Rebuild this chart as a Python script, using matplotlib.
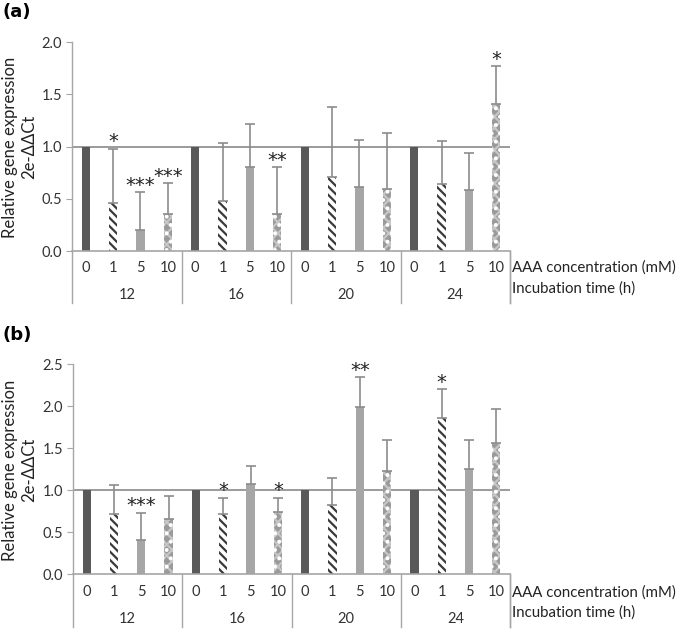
import numpy as np
import matplotlib
matplotlib.use("Agg")
import matplotlib.pyplot as plt
from matplotlib.lines import Line2D

plt.rcParams['font.family'] = ['Lato', 'DejaVu Sans']
plt.rcParams['hatch.linewidth'] = 1.6

# Data
times = ["12", "16", "20", "24"]
concs = ["0", "1", "5", "10"]

# panel (a)
vals_a = [1.0, 0.46, 0.20, 0.35,
          1.0, 0.48, 0.80, 0.35,
          1.0, 0.71, 0.61, 0.59,
          1.0, 0.64, 0.58, 1.41]
errtop_a = [1.0, 0.98, 0.56, 0.65,
            1.0, 1.03, 1.22, 0.80,
            1.0, 1.38, 1.06, 1.13,
            1.0, 1.05, 0.94, 1.77]
stars_a = ["", "*", "***", "***",
           "", "", "", "**",
           "", "", "", "",
           "", "", "", "*"]

# panel (b)
vals_b = [1.0, 0.71, 0.40, 0.66,
          1.0, 0.72, 1.07, 0.74,
          1.0, 0.82, 1.99, 1.23,
          1.0, 1.86, 1.25, 1.56]
errtop_b = [1.0, 1.06, 0.73, 0.93,
            1.0, 0.91, 1.28, 0.91,
            1.0, 1.14, 2.34, 1.60,
            1.0, 2.20, 1.60, 1.96]
stars_b = ["", "", "***", "",
           "", "*", "", "*",
           "", "", "**", "",
           "", "*", "", ""]

# bar styles per concentration
styles = [
    dict(color="#595959", hatch=None, edgecolor="#595959"),
    dict(color="white", hatch="\\\\\\\\", edgecolor="#3a3a3a"),
    dict(color="#a6a6a6", hatch=None, edgecolor="#a6a6a6"),
    dict(color="#9a9a9a", hatch="xxx", edgecolor="#c6c6c6"),
]
axis_col = "#a6a6a6"
err_col = "#8c8c8c"


def draw_panel(ax, vals, errtop, stars, ymax, label_y, grp_y, line_y):
    x = np.arange(len(vals))
    vals = np.array(vals)
    errtop = np.array(errtop)
    for i in range(len(vals)):
        st = styles[i % 4]
        ax.bar(x[i], vals[i], width=0.3, color=st["color"], hatch=st["hatch"],
               edgecolor=st["edgecolor"], linewidth=0, zorder=2)
        if i % 4 == 3:
            # white dots on top of the checker pattern
            ax.bar(x[i], vals[i], width=0.3, color="none", hatch="..",
                   edgecolor="white", linewidth=0, zorder=2)
        up = errtop[i] - vals[i]
        if up > 0:
            ax.errorbar(x[i], vals[i], yerr=[[0], [up]], fmt="none",
                        ecolor=err_col, elinewidth=1.2, capsize=3.5,
                        capthick=1.2, zorder=3)
        if stars[i]:
            ax.annotate(stars[i], (x[i], errtop[i]), xytext=(0, -2),
                        textcoords="offset points", ha="center", va="bottom",
                        fontsize=14, color="#222222", zorder=4,
                        family="DejaVu Sans")

    ax.axhline(1.0, color="#8a8a8a", linewidth=1.2, zorder=1)
    ax.set_xlim(-0.5, len(vals) - 0.5)
    ax.set_ylim(0, ymax)
    ax.set_yticks(np.arange(0, ymax + 0.01, 0.5))
    ax.set_yticklabels([f"{v:.1f}" for v in np.arange(0, ymax + 0.01, 0.5)])
    ax.tick_params(axis="y", direction="out", length=4, color=axis_col,
                   labelsize=10.5, labelcolor="#333333", pad=3)
    ax.set_xticks([])
    for s in ["top", "right"]:
        ax.spines[s].set_visible(False)
    ax.spines["left"].set_color(axis_col)
    ax.spines["bottom"].set_color(axis_col)
    ax.spines["left"].set_linewidth(1.0)
    ax.spines["bottom"].set_linewidth(1.2)

    trans = ax.get_xaxis_transform()
    for i in range(len(vals)):
        ax.text(x[i], label_y, concs[i % 4], transform=trans, ha="center",
                va="center", fontsize=10.5, color="#333333")
    for g, t in enumerate(times):
        ax.text(4 * g + 1.5, grp_y, t, transform=trans, ha="center",
                va="center", fontsize=10.5, color="#333333")
    for b in np.arange(-0.5, len(vals), 4.0).tolist() + [len(vals) - 0.5]:
        ax.add_line(Line2D([b, b], [0, line_y], transform=trans,
                           color=axis_col, linewidth=1.0, clip_on=False))
    ax.text(1.005, label_y, "AAA concentration (mM)", transform=ax.transAxes,
            ha="left", va="center", fontsize=10.8, color="#222222")
    ax.text(1.005, grp_y + 0.03, "Incubation time (h)", transform=ax.transAxes,
            ha="left", va="center", fontsize=10.8, color="#222222")


fig = plt.figure(figsize=(6.85, 6.29), dpi=100)
ax_a = fig.add_axes([72 / 685, 1 - 251 / 629, 438 / 685, 209 / 629])
ax_b = fig.add_axes([73 / 685, 1 - 574 / 629, 437 / 685, 210 / 629])

draw_panel(ax_a, vals_a, errtop_a, stars_a, 2.0, -0.081, -0.21, -0.25)
draw_panel(ax_b, vals_b, errtop_b, stars_b, 2.5, -0.086, -0.214, -0.252)

ylab = "Relative gene expression\n2e-\u0394\u0394Ct"
fig.text(20 / 685, 1 - 147 / 629, ylab, rotation=90, ha="center", va="center",
         fontsize=12, color="#222222", linespacing=1.25, multialignment="center")
fig.text(20 / 685, 1 - 470 / 629, ylab, rotation=90, ha="center", va="center",
         fontsize=12, color="#222222", linespacing=1.25, multialignment="center")

fig.text(2 / 685, 1 - 12 / 629, "(a)", fontsize=13, fontweight="bold",
         ha="left", va="center", family="DejaVu Sans")
fig.text(2 / 685, 1 - 335 / 629, "(b)", fontsize=13, fontweight="bold",
         ha="left", va="center", family="DejaVu Sans")

fig.savefig("out.png", dpi=100)
